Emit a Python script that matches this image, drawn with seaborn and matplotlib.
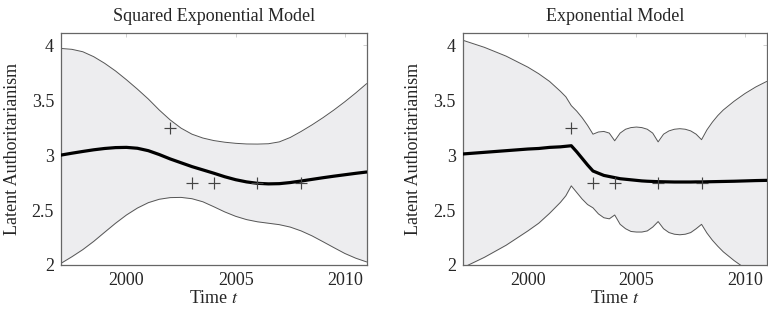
import matplotlib
matplotlib.use("Agg")
import matplotlib.pyplot as plt
import seaborn as sns

# -----------------------------
# Data
# -----------------------------
obs_year = [2002, 2003, 2004, 2006, 2008]
obs_value = [3.25, 2.75, 2.75, 2.75, 2.75]

# squared exponential model
se_year = [1997, 1997.5, 1998, 1998.5, 1999, 1999.5, 2000, 2000.5, 2001, 2001.5,
           2002, 2002.5, 2003, 2003.5, 2004, 2004.5, 2005, 2005.5, 2006, 2006.5,
           2007, 2007.5, 2008, 2008.5, 2009, 2009.5, 2010, 2010.5, 2011]
se_mean = [3.00, 3.017, 3.033, 3.048, 3.06, 3.068, 3.07, 3.062, 3.04, 3.005,
           2.965, 2.93, 2.895, 2.865, 2.835, 2.803, 2.776, 2.756, 2.743, 2.738,
           2.74, 2.75, 2.764, 2.779, 2.794, 2.808, 2.821, 2.834, 2.846]
se_upper = [3.97, 3.962, 3.94, 3.895, 3.835, 3.765, 3.685, 3.60, 3.51, 3.41,
            3.32, 3.245, 3.19, 3.155, 3.132, 3.117, 3.107, 3.101, 3.10, 3.103,
            3.12, 3.16, 3.215, 3.275, 3.34, 3.41, 3.485, 3.565, 3.65]
se_lower = [2.015, 2.075, 2.14, 2.215, 2.298, 2.38, 2.455, 2.518, 2.567, 2.598,
            2.613, 2.615, 2.603, 2.575, 2.53, 2.483, 2.443, 2.413, 2.393, 2.38,
            2.367, 2.345, 2.31, 2.265, 2.212, 2.158, 2.105, 2.062, 2.028]

# exponential model
ex_year = [1997, 1998, 1999, 2000, 2000.5, 2001, 2001.5, 2001.75, 2002, 2002.25,
           2002.5, 2002.75, 2003, 2003.25, 2003.5, 2003.75, 2004, 2004.25, 2004.5, 2004.75,
           2005, 2005.25, 2005.5, 2005.75, 2006, 2006.25, 2006.5, 2006.75, 2007, 2007.25,
           2007.5, 2007.75, 2008, 2008.25, 2008.5, 2008.75, 2009, 2009.5, 2010, 2010.5, 2011]
ex_mean = [3.01, 3.025, 3.04, 3.055, 3.06, 3.07, 3.075, 3.08, 3.085, 3.03,
           2.97, 2.91, 2.855, 2.835, 2.815, 2.805, 2.795, 2.785, 2.78, 2.775,
           2.77, 2.765, 2.762, 2.76, 2.758, 2.757, 2.756, 2.755, 2.755, 2.755,
           2.755, 2.756, 2.756, 2.757, 2.758, 2.759, 2.76, 2.762, 2.765, 2.768, 2.77]
ex_upper = [4.045, 3.98, 3.90, 3.80, 3.74, 3.67, 3.58, 3.53, 3.45, 3.40,
            3.34, 3.27, 3.19, 3.21, 3.215, 3.20, 3.13, 3.20, 3.235, 3.25,
            3.255, 3.25, 3.235, 3.20, 3.12, 3.19, 3.22, 3.235, 3.24, 3.235,
            3.22, 3.19, 3.14, 3.23, 3.30, 3.36, 3.41, 3.49, 3.56, 3.62, 3.67]
ex_lower = [1.975, 2.07, 2.18, 2.31, 2.38, 2.47, 2.57, 2.63, 2.72, 2.66,
            2.60, 2.55, 2.52, 2.465, 2.43, 2.42, 2.455, 2.37, 2.33, 2.305,
            2.30, 2.30, 2.31, 2.345, 2.395, 2.33, 2.295, 2.28, 2.275, 2.28,
            2.295, 2.33, 2.37, 2.29, 2.225, 2.17, 2.12, 2.04, 1.97, 1.91, 1.86]

titles = ["Squared Exponential Model", "Exponential Model"]
x_ticks = [2000, 2005, 2010]
y_ticks = [2, 2.5, 3, 3.5, 4]
y_tick_labels = ["2", "2.5", "3", "3.5", "4"]

# -----------------------------
# Style
# -----------------------------
sns.set_theme(style="white")
plt.rcParams["font.family"] = ["Liberation Serif", "DejaVu Serif"]
plt.rcParams["mathtext.fontset"] = "stix"
plt.rcParams["font.size"] = 13

BAND = "#ededef"
EDGE = "#555555"

fig = plt.figure(figsize=(7.68, 3.09), dpi=100)
ax_left = fig.add_axes([0.0794, 0.1424, 0.398, 0.7506])
ax_right = fig.add_axes([0.6025, 0.1424, 0.3958, 0.7506])

panels = [
    (ax_left, se_year, se_mean, se_upper, se_lower),
    (ax_right, ex_year, ex_mean, ex_upper, ex_lower),
]

for (ax, xs, mean, upper, lower), title in zip(panels, titles):
    ax.fill_between(xs, lower, upper, color=BAND, linewidth=0, zorder=1)
    sns.lineplot(x=xs, y=upper, ax=ax, color=EDGE, linewidth=0.7, sort=False, zorder=2)
    sns.lineplot(x=xs, y=lower, ax=ax, color=EDGE, linewidth=0.7, sort=False, zorder=2)
    sns.lineplot(x=xs, y=mean, ax=ax, color="black", linewidth=2.3, sort=False, zorder=3)
    sns.scatterplot(x=obs_year, y=obs_value, ax=ax, marker="+", s=80,
                    color="#444444", linewidth=0.85, zorder=4)

    ax.set_xlim(1997, 2011)
    ax.set_ylim(2, 4.11)
    ax.set_xticks(x_ticks)
    ax.set_xticklabels([str(t) for t in x_ticks])
    ax.set_yticks(y_ticks)
    ax.set_yticklabels(y_tick_labels)
    ax.tick_params(axis="both", direction="in", length=3, width=0.6,
                   color="#c8c8c8", labelsize=13, pad=5,
                   top=True, right=True)
    for sp in ax.spines.values():
        sp.set_color("#666666")
        sp.set_linewidth(0.9)

    ax.set_title(title, fontsize=13, pad=9)
    ax.set_xlabel("Time $t$", fontsize=13, labelpad=1)
    ax.set_ylabel("Latent Authoritarianism", fontsize=13, labelpad=8)

plt.savefig("out.png", dpi=100)
plt.close()
